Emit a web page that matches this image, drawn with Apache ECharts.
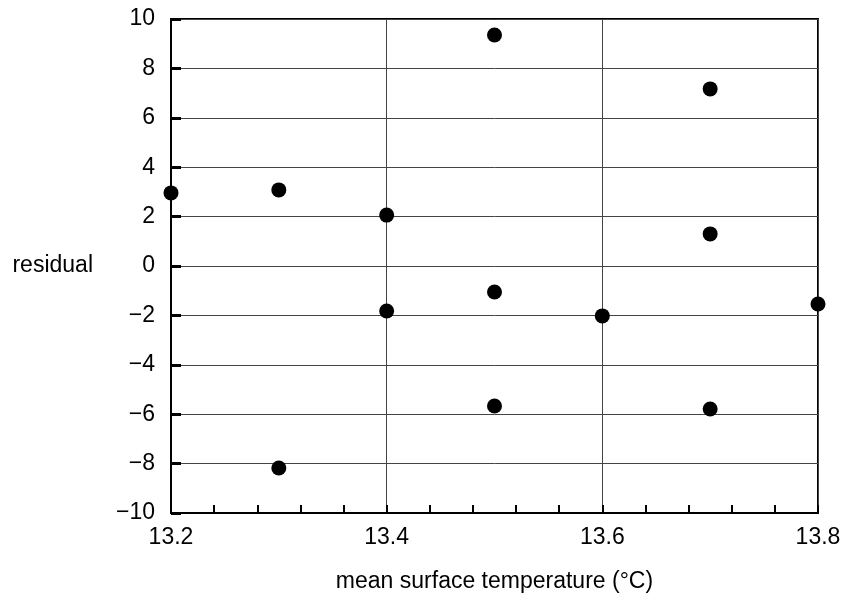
<!DOCTYPE html>
<html>
<head>
<meta charset="utf-8">
<script src="https://cdn.jsdelivr.net/npm/echarts@6/dist/echarts.min.js"></script>
<style>
  html, body { margin: 0; padding: 0; background: #fff; }
  #main { width: 843px; height: 595px; }
</style>
</head>
<body>
<div id="main"></div>
<script>
// data
var temps = [13.2, 13.3, 13.3, 13.4, 13.4, 13.5, 13.5, 13.5, 13.6, 13.7, 13.7, 13.7, 13.8];
var residuals = [2.96, 3.08, -8.18, 2.06, -1.82, 9.35, -1.05, -5.67, -2.02, 7.17, 1.3, -5.79, -1.54];
var xTitle = 'mean surface temperature (°C)';
var yTitle = 'residual';

var points = [];
for (var i = 0; i < temps.length; i++) {
    points.push([temps[i], residuals[i]]);
}

var myChart = echarts.init(document.getElementById('main'));
var font = 'Liberation Sans, Arial, sans-serif';

var option = {
    animation: false,
    backgroundColor: '#fff',
    grid: {
        left: 171, top: 19, right: 25, bottom: 82,
        outerBoundsMode: 'none',
        containLabel: false,
        show: true, borderColor: '#000', borderWidth: 2
    },
    xAxis: {
        type: 'value',
        min: 13.2, max: 13.8, interval: 0.2,
        name: xTitle,
        nameLocation: 'middle',
        nameGap: 57,
        nameTextStyle: { color: '#000', fontSize: 23, fontFamily: font },
        axisLine: { onZero: false, lineStyle: { color: '#000', width: 2 } },
        axisTick: { show: true, inside: true, length: 8, lineStyle: { color: '#000', width: 2 } },
        minorTick: { show: true, splitNumber: 5, length: 8, lineStyle: { color: '#000', width: 2 } },
        axisLabel: {
            color: '#000', fontSize: 23, fontFamily: font, margin: 13,
            formatter: function (v) { return v.toFixed(1); }
        },
        splitLine: { show: true, lineStyle: { color: '#444', width: 1 } }
    },
    yAxis: {
        type: 'value',
        min: -10, max: 10, interval: 2,
        name: yTitle,
        nameLocation: 'middle',
        nameRotate: 0,
        nameGap: 78,
        nameTextStyle: { color: '#000', fontSize: 23, fontFamily: font },
        axisLine: { onZero: false, lineStyle: { color: '#000', width: 2 } },
        axisTick: { show: true, inside: true, length: 10, lineStyle: { color: '#000', width: 3 } },
        axisLabel: {
            color: '#000', fontSize: 23, fontFamily: font, margin: 16,
            formatter: function (v) { return String(v).replace('-', '\u2212'); }
        },
        splitLine: { show: true, lineStyle: { color: '#444', width: 1 } }
    },
    series: [{
        type: 'scatter',
        data: points,
        symbol: 'circle',
        symbolSize: 15,
        itemStyle: { color: '#000', opacity: 1 }
    }]
};
myChart.setOption(option);
</script>
</body>
</html>
